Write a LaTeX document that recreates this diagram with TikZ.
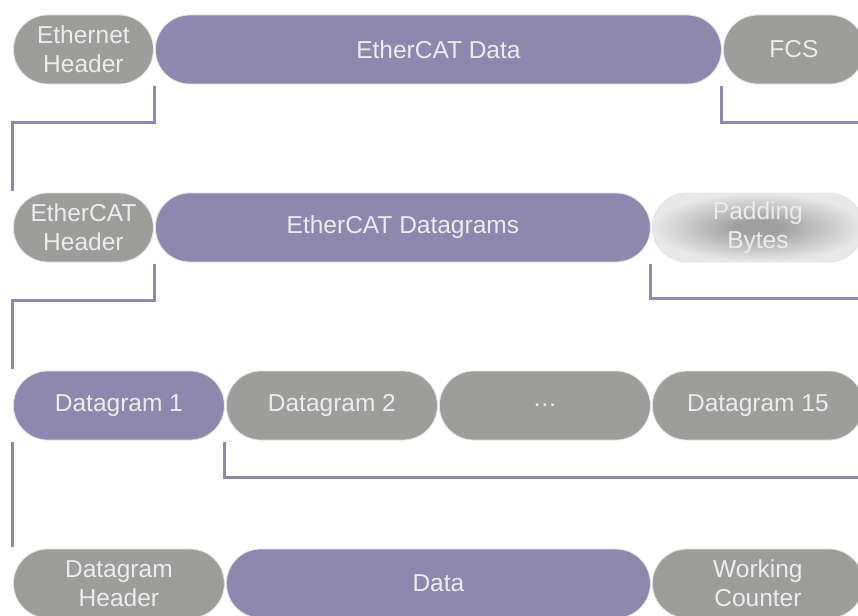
\documentclass[tikz,border=0pt]{standalone}
\usepackage{fontspec}
\setmainfont{Liberation Sans}
\definecolor{pgray}{HTML}{9D9E9C}
\definecolor{ppurp}{HTML}{8E88AF}
\definecolor{ptext}{HTML}{ECECEC}
\definecolor{pline}{HTML}{8F88B4}
\definecolor{pedge}{HTML}{E4E4E4}
\definecolor{padc}{HTML}{9F9F9F}
\definecolor{padm}{HTML}{C4C4C4}
\definecolor{padout}{HTML}{E8E8E8}
\pgfdeclareradialshading{padshade}{\pgfpoint{0bp}{0bp}}{color(0bp)=(padc); color(5bp)=(padc); color(15bp)=(padm); color(25bp)=(padout); color(50bp)=(padout)}
\begin{document}
\begin{tikzpicture}[x=1pt,y=-1pt,
  pill/.style={rectangle, rounded corners=34.4pt, minimum height=69pt, inner sep=0pt,
    anchor=west, draw=pedge, line width=0.8pt, text=ptext, align=center,
    font=\fontsize{24.5}{29}\selectfont},
  graypill/.style={pill, fill=pgray},
  purppill/.style={pill, fill=ppurp},
  padpill/.style={pill, shading=padshade},
  conn/.style={draw=pline, line width=3pt}]
\useasboundingbox (0,0) rectangle (858,615);
\clip (0,0) rectangle (858,615);
% row 1
\node[graypill, minimum width=140pt] (eh) at (13,49.5) {Ethernet\\Header};
\node[purppill, minimum width=566pt] (ecd) at (155,49.5) {EtherCAT Data};
\node[graypill, minimum width=141pt] (fcs) at (723,49.5) {FCS};
% row 2
\node[graypill, minimum width=140pt] (ech) at (13,227.5) {EtherCAT\\Header};
\node[purppill, minimum width=495pt] (ecdg) at (155,227.5) {EtherCAT Datagrams};
\node[padpill, minimum width=211pt] (pad) at (652,227.5) {Padding\\Bytes};
% row 3
\node[purppill, minimum width=211pt] (d1) at (13,405.5) {Datagram 1};
\node[graypill, minimum width=211pt] (d2) at (226,405.5) {Datagram 2};
\node[graypill, minimum width=211pt] (dd) at (439,405.5) {…};
\node[graypill, minimum width=211pt] (d15) at (652,405.5) {Datagram 15};
% row 4
\node[graypill, minimum width=211pt] (dh) at (13,583.5) {Datagram\\Header};
\node[purppill, minimum width=424pt] (data) at (226,583.5) {Data};
\node[graypill, minimum width=211pt] (wc) at (652,583.5) {Working\\Counter};
% right-edge coordinates
\coordinate (r1) at (860,122);
\coordinate (r2) at (860,298);
\coordinate (r3) at (860,477);
% connectors
\draw[conn] ([shift={(1,2)}]eh.south east) -- ++(0,36) -| ([shift={(-1,-2)}]ech.north west);
\draw[conn] ([shift={(0,2)}]ecd.south east) |- (r1);
\draw[conn] ([shift={(1,2)}]ech.south east) -- ++(0,36) -| ([shift={(-1,-2)}]d1.north west);
\draw[conn] ([shift={(0,2)}]ecdg.south east) |- (r2);
\draw[conn] ([shift={(0,2)}]d1.south east) |- (r3);
\draw[conn] ([shift={(-1,2)}]d1.south west) -- ([shift={(-1,-2)}]dh.north west);
\end{tikzpicture}
\end{document}
